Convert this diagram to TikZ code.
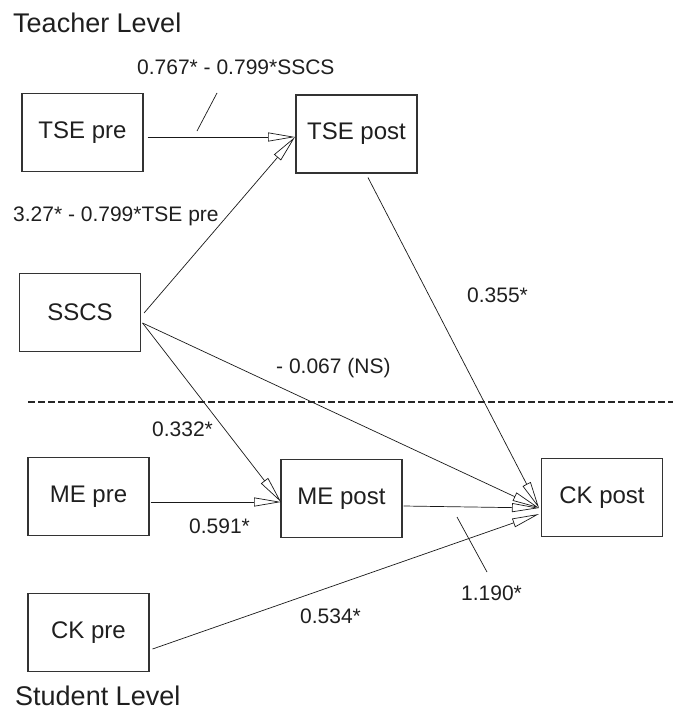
\documentclass[tikz,border=0pt]{standalone}
\usepackage{fontspec}
\setmainfont{Liberation Sans}
\usetikzlibrary{arrows.meta,calc}
\tikzstyle{box}=[draw=black!80, line width=1.1pt, minimum width=121pt, minimum height=78pt, inner sep=0pt, text=black!88, font=\fontsize{24}{28}\selectfont]
\tikzstyle{edge} = [draw, line width=0.7pt, black!90, -{Triangle[open, length=27pt, width=9pt]}]
\tikzstyle{weight} = [anchor=base west, inner sep=0pt, text=black!88, font=\fontsize{21}{25}\selectfont]
\tikzstyle{level} = [anchor=base west, inner sep=0pt, text=black!88, font=\fontsize{27}{32}\selectfont]

\begin{document}
\begin{tikzpicture}[x=1pt, y=-1pt]
				\useasboundingbox (0,0) rectangle (673,712);

				% First the boxes
				\foreach \pos/\name/\txt in {{(82.5,132.5)/tsepre/TSE pre}, {(356.5,134)/tsepost/TSE post}, {(80,312.5)/sscs/SSCS}, {(88.5,496.5)/mepre/ME pre}, {(341.5,498.5)/mepost/ME post}, {(602,497.5)/ckpost/CK post}, {(88.5,632.5)/ckpre/CK pre}}
				\node[box] (\name) at \pos {\txt};

				% Points where the arrows meet
				\coordinate (tsein) at (295,137);
				\coordinate (mein) at (281,502);
				\coordinate (ckin) at (539,508);
				\coordinate (ckinlow) at (539,514);

				% Connect boxes with paths
				\foreach \source/\dx/\dy/\dest in {tsepre.east/4/4.5/tsein, sscs.east/3/0.5/tsein, sscs.east/1.5/10.5/mein, sscs.east/1.5/10.5/ckin, tsepost.south/11.5/4/ckin, mepre.east/1/5.5/mein, mepost.east/1/7.5/ckin, ckpre.east/3/16.5/ckinlow}
				\path[edge] ($(\source)+(\dx,\dy)$) -- (\dest);

				% Level divider and leader ticks
				\coordinate (divl) at (28,402);
				\coordinate (divr) at (673,402);
				\draw[line width=1.2pt, black!85, dash pattern=on 6.5pt off 3.5pt] (divl) -- (divr);
				\coordinate (ta) at (217,93);
				\coordinate (tb) at (197,131);
				\coordinate (tc) at (457,517);
				\coordinate (td) at (487,572);
				\draw[line width=0.7pt, black!90] (ta) -- (tb);
				\draw[line width=0.7pt, black!90] (tc) -- (td);

				% Weights
				\foreach \pos/\name/\weight in {{(137,74)/wtse/0.767* - 0.799*SSCS}, {(13,221)/wsscs/3.27* - 0.799*TSE pre}, {(467,302)/wck/0.355*}, {(276,373)/wns/- 0.067 (NS)}, {(152,436)/wme/0.332*}, {(189,533)/wmepre/0.591*}, {(461,600)/wmepost/1.190*}, {(300,623)/wckpre/0.534*}}
				\node[weight] (\name) at \pos {\weight};

				\node[level] (teacher) at (13,32) {Teacher Level};
				\node[level] (student) at (15,705) {Student Level};
			\end{tikzpicture}
\end{document}
